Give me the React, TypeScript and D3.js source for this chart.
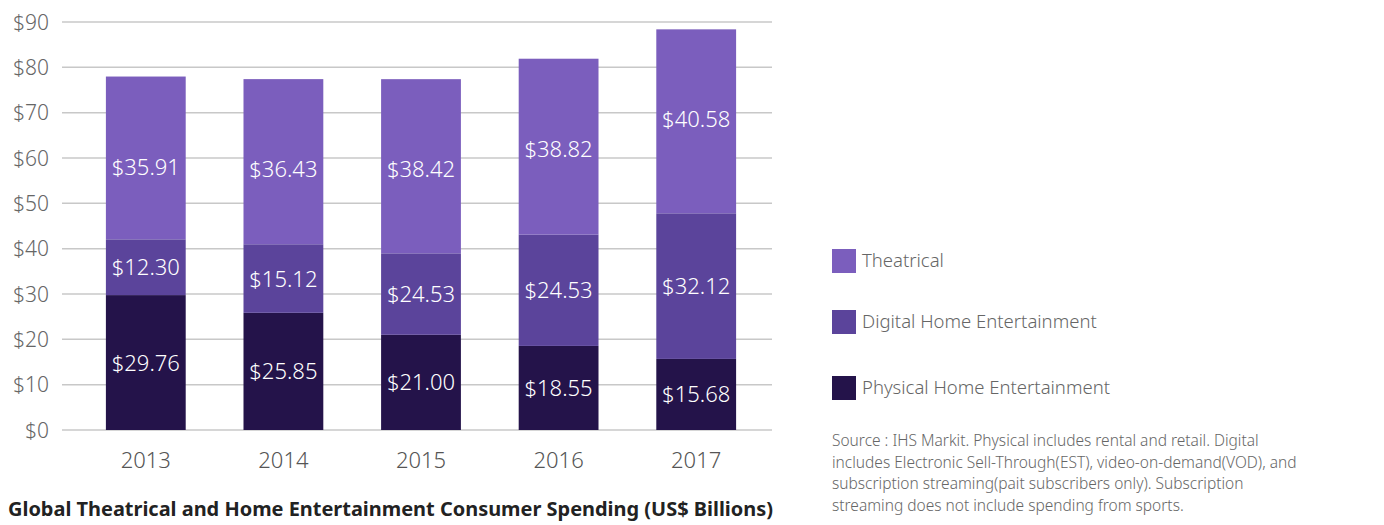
import React from "react";
import * as d3 from "d3";

const years = ["2013", "2014", "2015", "2016", "2017"];
const physical = [29.76, 25.85, 21.0, 18.55, 15.68];
const digital = [12.3, 15.12, 17.97, 24.53, 32.12];
const theatrical = [35.91, 36.43, 38.42, 38.82, 40.58];
const physicalLabels = ["$29.76", "$25.85", "$21.00", "$18.55", "$15.68"];
const digitalLabels = ["$12.30", "$15.12", "$24.53", "$24.53", "$32.12"];
const theatricalLabels = ["$35.91", "$36.43", "$38.42", "$38.82", "$40.58"];
const yTicks = [0, 10, 20, 30, 40, 50, 60, 70, 80, 90];
const seriesNames = ["Theatrical", "Digital Home Entertainment", "Physical Home Entertainment"];
const colors = { physical: "#24134a", digital: "#5b449b", theatrical: "#7b5ebd" };
const sourceLines = [
  "Source : IHS Markit. Physical includes rental and retail. Digital",
  "includes Electronic Sell-Through(EST), video-on-demand(VOD), and",
  "subscription streaming(pait subscribers only). Subscription",
  "streaming does not include spending from sports.",
];
const title = "Global Theatrical and Home Entertainment Consumer Spending (US$ Billions)";

const FONT = "'Source Sans Pro', 'Noto Sans', 'Open Sans', sans-serif";

export default function App() {
  const W = 1384, H = 525;
  const y = d3.scaleLinear().domain([0, 90]).range([430, 22]);
  const x = d3.scaleBand().domain(years).range([77, 765]).paddingInner(0.42).paddingOuter(0.21);
  const bw = x.bandwidth();
  const segs = [
    { key: "physical", vals: physical, labels: physicalLabels, top: false },
    { key: "digital", vals: digital, labels: digitalLabels, top: false },
    { key: "theatrical", vals: theatrical, labels: theatricalLabels, top: true },
  ];
  const legendColors = [colors.theatrical, colors.digital, colors.physical];
  const legendY = [249, 310, 376];

  return (
    <svg width={W} height={H} style={{ position: "absolute", left: 0, top: 0, fontFamily: FONT }}>
      <rect width={W} height={H} fill="#fff" />
      {yTicks.map((t) => (
        <g key={t}>
          <line x1={62} x2={772} y1={y(t)} y2={y(t)} stroke="#c8c8c8" strokeWidth={1.5} />
          <text x={49} y={y(t) + 7.5} textAnchor="end" fontSize={21} fill="#666" fontWeight={300}>
            ${t}
          </text>
        </g>
      ))}
      {years.map((yr, i) => {
        let base = 0;
        return (
          <g key={yr}>
            {segs.map((s) => {
              const v = s.vals[i];
              const y0 = y(base);
              const y1 = y(base + v);
              base += v;
              const cy = s.top ? y1 + 90 : (y0 + y1) / 2;
              return (
                <g key={s.key}>
                  <rect x={x(yr)} y={y1} width={bw} height={y0 - y1} fill={(colors as any)[s.key]} />
                  <text
                    x={(x(yr) as number) + bw / 2}
                    y={cy + 8}
                    textAnchor="middle"
                    fontSize={22}
                    fill="#fff"
                    fontWeight={300}
                  >
                    {s.labels[i]}
                  </text>
                </g>
              );
            })}
            <text x={(x(yr) as number) + bw / 2} y={468} textAnchor="middle" fontSize={22} fill="#555" fontWeight={300}>
              {yr}
            </text>
          </g>
        );
      })}
      {seriesNames.map((n, i) => (
        <g key={n}>
          <rect x={832} y={legendY[i]} width={24} height={24} fill={legendColors[i]} />
          <text x={862} y={legendY[i] + 18} fontSize={18.5} fill="#666" fontWeight={300}>
            {n}
          </text>
        </g>
      ))}
      {sourceLines.map((l, i) => (
        <text key={i} x={832} y={446 + i * 21.7} fontSize={15.5} fill="#666" fontWeight={300}>
          {l}
        </text>
      ))}
      <text x={8} y={516} fontSize={19} fontWeight={700} fill="#222" textLength={765} lengthAdjust="spacingAndGlyphs">
        {title}
      </text>
    </svg>
  );
}
